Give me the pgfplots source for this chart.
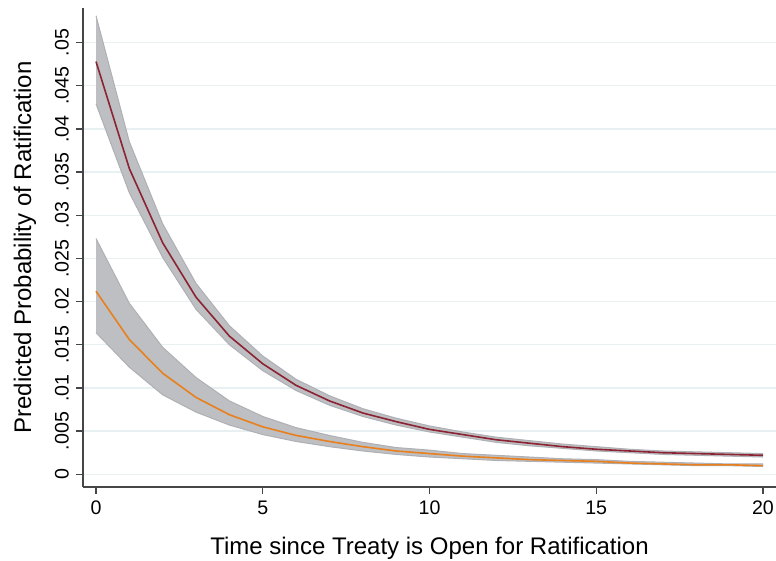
\documentclass[border=0pt]{standalone}
\usepackage{pgfplots}
\pgfplotsset{compat=1.18}
\usepackage{pgfplotstable}
\usepgfplotslibrary{fillbetween}
\usepackage{fontspec}
\setmainfont{Liberation Sans}
\definecolor{redline}{RGB}{140,35,50}
\definecolor{orangeline}{RGB}{232,128,30}
\definecolor{bandfill}{RGB}{190,191,195}
\definecolor{bandedge}{RGB}{175,176,180}
\definecolor{gridc}{RGB}{232,240,242}
\definecolor{axisc}{RGB}{70,70,70}
\pgfplotstableread{
t r rlo rhi o olo ohi
0 0.0478 0.0429 0.0531 0.0212 0.0164 0.0273
1 0.0354 0.0326 0.0385 0.0156 0.0124 0.0198
2 0.0268 0.0251 0.0290 0.0117 0.0092 0.0147
3 0.0205 0.0191 0.0221 0.0089 0.0072 0.0112
4 0.0160 0.0150 0.0172 0.0069 0.0057 0.0085
5 0.0128 0.0120 0.0137 0.0055 0.0046 0.0067
6 0.0103 0.0097 0.0110 0.0045 0.0038 0.0054
7 0.0085 0.0080 0.0091 0.0038 0.0032 0.0045
8 0.0071 0.0067 0.0076 0.0032 0.0027 0.0037
9 0.0061 0.0057 0.0065 0.0027 0.0023 0.0031
10 0.0052 0.0049 0.0056 0.0024 0.0020 0.0028
11 0.0046 0.0043 0.0049 0.0021 0.0018 0.0024
12 0.0040 0.0037 0.0043 0.0019 0.0016 0.0022
13 0.0036 0.0033 0.0039 0.0017 0.0015 0.0020
14 0.0032 0.0030 0.0035 0.0016 0.0014 0.0018
15 0.0029 0.0027 0.0032 0.0015 0.0013 0.0017
16 0.0027 0.0025 0.0029 0.0013 0.0012 0.0015
17 0.0025 0.0023 0.0027 0.0012 0.0011 0.0014
18 0.0024 0.0022 0.0026 0.0011 0.0010 0.0013
19 0.0023 0.0021 0.0025 0.0011 0.0010 0.0012
20 0.0022 0.0020 0.0024 0.0010 0.0009 0.0012
}\datatable
\begin{document}
\begin{tikzpicture}
\begin{axis}[
  name=ax,
  scale only axis,
  width=346.5pt, height=239.5pt,
  xmin=-0.39, xmax=20.39,
  ymin=-0.00147, ymax=0.054,
  axis x line*=bottom, axis y line*=left,
  axis line style={axisc, line width=0.7pt},
  tick style={axisc, line width=0.7pt},
  tick align=outside,
  major tick length=3.5pt,
  scaled y ticks=false,
  xtick={0,5,10,15,20},
  ytick={0,0.005,0.01,0.015,0.02,0.025,0.03,0.035,0.04,0.045,0.05},
  yticklabels={0,.005,.01,.015,.02,.025,.03,.035,.04,.045,.05},
  /pgf/number format/assume math mode=true,
  ticklabel style={font=\fontsize{9.8pt}{11pt}\selectfont, text=black},
  yticklabel style={rotate=90, anchor=south},
  ymajorgrids,
  grid style={gridc, line width=0.7pt},
  xlabel={Time since Treaty is Open for Ratification},
  ylabel={Predicted Probability of Ratification},
  label style={font=\fontsize{12pt}{14pt}\selectfont},
  xlabel style={at={(axis description cs:0.5,0)}, anchor=center, yshift=-30.5pt},
  ylabel style={at={(axis description cs:0,0.5)}, anchor=center, yshift=29pt},
  clip=false,
]
\addplot[name path=rhi, draw=bandedge, line width=0.5pt] table[x=t, y=rhi] {\datatable};
\addplot[name path=rlo, draw=bandedge, line width=0.5pt] table[x=t, y=rlo] {\datatable};
\addplot[bandfill] fill between[of=rhi and rlo];
\addplot[name path=ohi, draw=bandedge, line width=0.5pt] table[x=t, y=ohi] {\datatable};
\addplot[name path=olo, draw=bandedge, line width=0.5pt] table[x=t, y=olo] {\datatable};
\addplot[bandfill] fill between[of=ohi and olo];
\addplot[redline, line width=0.8pt] table[x=t, y=r] {\datatable};
\addplot[orangeline, line width=0.8pt] table[x=t, y=o] {\datatable};
\end{axis}
\pgfresetboundingbox
\path[use as bounding box] ([xshift=-41.5pt, yshift=-37pt]ax.south west) rectangle ([yshift=4pt]ax.north east);
\end{tikzpicture}
\end{document}
